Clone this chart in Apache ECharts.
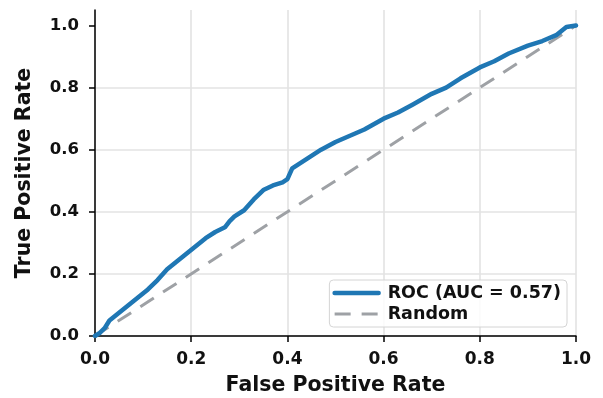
<!DOCTYPE html>
<html>
<head>
<meta charset="utf-8">
<script src="https://cdn.jsdelivr.net/npm/echarts@6/dist/echarts.min.js"></script>
<style>
  html, body { margin: 0; padding: 0; background: #fff; }
  #chart { width: 603px; height: 398px; }
</style>
</head>
<body>
<div id="chart"></div>
<script>
// ROC curve
const fpr = [0, 0.01, 0.02, 0.03, 0.05, 0.07, 0.09, 0.11, 0.13, 0.15, 0.17, 0.19, 0.21, 0.23, 0.25, 0.27, 0.28, 0.29, 0.31, 0.33, 0.35, 0.37, 0.39, 0.40, 0.41, 0.43, 0.45, 0.47, 0.50, 0.53, 0.56, 0.60, 0.63, 0.66, 0.70, 0.73, 0.76, 0.80, 0.83, 0.86, 0.90, 0.93, 0.96, 0.98, 1.0]
const tpr = [0, 0.01, 0.025, 0.05, 0.075, 0.10, 0.125, 0.15, 0.18, 0.215, 0.24, 0.265, 0.29, 0.315, 0.335, 0.35, 0.37, 0.385, 0.405, 0.44, 0.47, 0.485, 0.495, 0.505, 0.54, 0.56, 0.58, 0.60, 0.625, 0.645, 0.665, 0.70, 0.72, 0.745, 0.78, 0.80, 0.83, 0.865, 0.885, 0.91, 0.935, 0.95, 0.97, 0.995, 1.0]
const randomLine = [[0, 0], [1, 1]]
const tickValues = [0, 0.2, 0.4, 0.6, 0.8, 1.0]
const aucLabel = 'ROC (AUC = 0.57)'

const chart = echarts.init(document.getElementById('chart'))

const font = 'DejaVu Sans'
const gridLine = { show: true, lineStyle: { color: '#e3e3e3', width: 1.6 } }
const blue = '#1f77b4'
const grey = '#9ea1a5'
const dash = [16, 11]

chart.setOption({
  animation: false,
  grid: { left: 95, right: 27, top: 10, bottom: 62, containLabel: false, outerBoundsMode: 'none' },
  legend: {
    orient: 'vertical',
    right: 36,
    bottom: 71,
    padding: [4, 6, 4, 3],
    itemGap: 3,
    itemWidth: 44,
    itemHeight: 14,
    backgroundColor: 'rgba(255,255,255,0.85)',
    borderColor: '#d4d4d4',
    borderWidth: 1,
    borderRadius: 4,
    itemStyle: { opacity: 0 },
    textStyle: { fontFamily: font, fontWeight: 'bold', fontSize: 17.5, color: '#111', padding: [0, 0, 0, 4] },
    data: [
      { name: aucLabel, lineStyle: { color: blue, width: 4.5 } },
      { name: 'Random', lineStyle: { color: grey, width: 3, type: dash } }
    ]
  },
  xAxis: {
    type: 'value',
    min: 0,
    max: 1,
    interval: 0.2,
    name: 'False Positive Rate',
    nameLocation: 'middle',
    nameGap: 39,
    nameTextStyle: { fontFamily: font, fontWeight: 'bold', fontSize: 20.5, color: '#111', verticalAlign: 'top' },
    axisLine: { show: true, lineStyle: { color: '#000', width: 1.5 } },
    axisTick: { show: true, length: 6, lineStyle: { color: '#000', width: 1.5 } },
    axisLabel: { fontFamily: font, fontWeight: 'bold', fontSize: 17, color: '#111', margin: 15, formatter: v => v.toFixed(1) },
    splitLine: gridLine
  },
  yAxis: {
    type: 'value',
    min: 0,
    max: 1.05,
    name: 'True Positive Rate',
    nameLocation: 'middle',
    nameGap: 60,
    nameRotate: 90,
    nameTextStyle: { fontFamily: font, fontWeight: 'bold', fontSize: 20.5, color: '#111' },
    axisLine: { show: true, lineStyle: { color: '#000', width: 1.5 } },
    axisTick: { show: true, length: 6, customValues: tickValues, lineStyle: { color: '#000', width: 1.5 } },
    axisLabel: { fontFamily: font, fontWeight: 'bold', fontSize: 16.5, color: '#111', margin: 16, customValues: tickValues, formatter: v => v.toFixed(1) },
    splitLine: Object.assign({ showMaxLine: false }, gridLine)
  },
  series: [
    {
      name: aucLabel,
      type: 'line',
      data: fpr.map((x, i) => [x, tpr[i]]),
      showSymbol: false,
      symbol: 'none',
      clip: true,
      z: 3,
      lineStyle: { color: blue, width: 4.5, cap: 'round', join: 'round' },
      itemStyle: { color: blue }
    },
    {
      name: 'Random',
      type: 'line',
      data: randomLine,
      showSymbol: false,
      symbol: 'none',
      z: 2,
      lineStyle: { color: grey, width: 3, type: dash },
      itemStyle: { color: grey }
    }
  ]
})
</script>
</body>
</html>
